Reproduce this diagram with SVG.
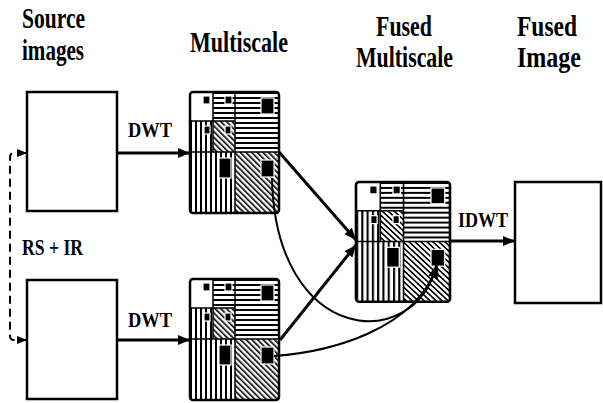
<svg xmlns="http://www.w3.org/2000/svg" xmlns:xlink="http://www.w3.org/1999/xlink" width="603" height="403" viewBox="0 0 603 403">
<style>
.t{font-family:"Liberation Serif","Times New Roman",serif;font-weight:bold;fill:#000}
.box{fill:#fff;stroke:#000;stroke-width:2.5}
.sq{fill:#000;stroke:#fff;stroke-width:1.2}
.div{stroke:#000;stroke-width:1.5;fill:none}
.c{fill:none;stroke:#000;stroke-width:3}
.cv{fill:none;stroke:#000;stroke-width:2}
</style>
<defs>
<pattern id="hs" width="6" height="5" patternUnits="userSpaceOnUse"><rect width="6" height="5" fill="#fff"/><rect width="6" height="2" fill="#000"/></pattern>
<pattern id="vs" width="5" height="6" patternUnits="userSpaceOnUse"><rect width="5" height="6" fill="#fff"/><rect width="2" height="6" fill="#000"/></pattern>
<pattern id="dg" width="4" height="6" patternUnits="userSpaceOnUse" patternTransform="rotate(-45)"><rect width="4" height="6" fill="#fff"/><rect width="1.6" height="6" fill="#000"/></pattern>
<marker id="ah" viewBox="0 0 12 10" refX="12" refY="5" markerWidth="12" markerHeight="10" markerUnits="userSpaceOnUse" orient="auto"><path d="M0,0 L12,5 L0,10 z" fill="#000"/></marker>
<marker id="ahs" viewBox="0 0 10 8" refX="10" refY="4" markerWidth="10" markerHeight="8" markerUnits="userSpaceOnUse" orient="auto"><path d="M0,0 L10,4 L0,8 z" fill="#000"/></marker>
<g id="grid">
<rect x="0" y="0" width="23" height="29" fill="#fff"/>
<rect x="23" y="0" width="22" height="29" fill="url(#hs)"/>
<rect x="45" y="0" width="44" height="60" fill="url(#hs)"/>
<rect x="0" y="29" width="23" height="31" fill="url(#vs)"/>
<rect x="23" y="29" width="22" height="31" fill="url(#dg)"/>
<rect x="0" y="60" width="45" height="61" fill="url(#vs)"/>
<rect x="45" y="60" width="44" height="61" fill="url(#dg)"/>
<path class="div" d="M23,0 V60 M45,0 V121 M0,29 H45 M0,60 H89"/>
<rect class="sq" x="13" y="4" width="7" height="8"/>
<rect class="sq" x="35" y="4" width="7" height="8"/>
<rect class="sq" x="71" y="6" width="13" height="16"/>
<rect class="sq" x="14" y="34" width="6" height="8"/>
<rect class="sq" x="35" y="34" width="6" height="8"/>
<rect class="sq" x="29" y="66" width="12" height="20"/>
<rect class="sq" x="71" y="68" width="13" height="17"/>
<rect x="0" y="0" width="89" height="121" rx="3" fill="none" stroke="#000" stroke-width="2.5"/>
</g>
</defs>
<rect width="603" height="403" fill="#fff"/>

<g id="labels">
<text class="t" x="22" y="28" font-size="29" textLength="63" lengthAdjust="spacingAndGlyphs">Source</text>
<text class="t" x="22" y="60" font-size="29" textLength="62" lengthAdjust="spacingAndGlyphs">images</text>
<text class="t" x="190" y="52" font-size="29" textLength="98" lengthAdjust="spacingAndGlyphs">Multiscale</text>
<text class="t" x="376" y="36" font-size="29" textLength="56" lengthAdjust="spacingAndGlyphs">Fused</text>
<text class="t" x="356" y="67" font-size="29" textLength="97" lengthAdjust="spacingAndGlyphs">Multiscale</text>
<text class="t" x="517" y="36" font-size="29" textLength="60" lengthAdjust="spacingAndGlyphs">Fused</text>
<text class="t" x="517" y="67" font-size="29" textLength="64" lengthAdjust="spacingAndGlyphs">Image</text>
</g>

<g id="source1"><rect class="box" x="27" y="92" width="90" height="119"/></g>
<g id="source2"><rect class="box" x="27" y="280" width="90" height="119"/></g>
<g id="multiscale1"><use xlink:href="#grid" href="#grid" transform="translate(190,92)"/></g>
<g id="multiscale2"><use xlink:href="#grid" href="#grid" transform="translate(190,279)"/></g>
<g id="fused-multiscale"><use xlink:href="#grid" href="#grid" transform="translate(356,182) scale(1.056,0.99)"/></g>
<g id="fused-image"><rect class="box" x="515" y="182" width="86" height="121"/></g>

<g id="connectors">
<path d="M25,153 H14 Q10,153 10,158 V336 Q10,340 14,340 H25" fill="none" stroke="#000" stroke-width="2" stroke-dasharray="8,5"/>
<path d="M18,153 H27" fill="none" stroke="#000" stroke-width="2" marker-end="url(#ahs)"/>
<path d="M18,340 H27" fill="none" stroke="#000" stroke-width="2" marker-end="url(#ahs)"/>
<path class="c" d="M117,153 H190" marker-end="url(#ah)"/>
<path class="c" d="M117,340 H190" marker-end="url(#ah)"/>
<path class="c" d="M279,152 L356,240" marker-end="url(#ah)"/>
<path class="c" d="M280,340 L356,245" marker-end="url(#ah)"/>
<path class="cv" d="M272,178 C275,345 415,355 437,264" marker-end="url(#ah)"/>
<path class="cv" d="M274,356 C330,352 415,330 437,266" marker-end="url(#ah)"/>
<path class="c" d="M450,241 H515" marker-end="url(#ah)"/>
</g>

<g id="edge-labels">
<text class="t" x="128" y="137" font-size="22" textLength="44" lengthAdjust="spacingAndGlyphs">DWT</text>
<text class="t" x="128" y="327" font-size="22" textLength="44" lengthAdjust="spacingAndGlyphs">DWT</text>
<text class="t" x="458" y="227" font-size="22" textLength="50" lengthAdjust="spacingAndGlyphs">IDWT</text>
<text class="t" x="22" y="255" font-size="24" textLength="61" lengthAdjust="spacingAndGlyphs">RS + IR</text>
</g>
</svg>
